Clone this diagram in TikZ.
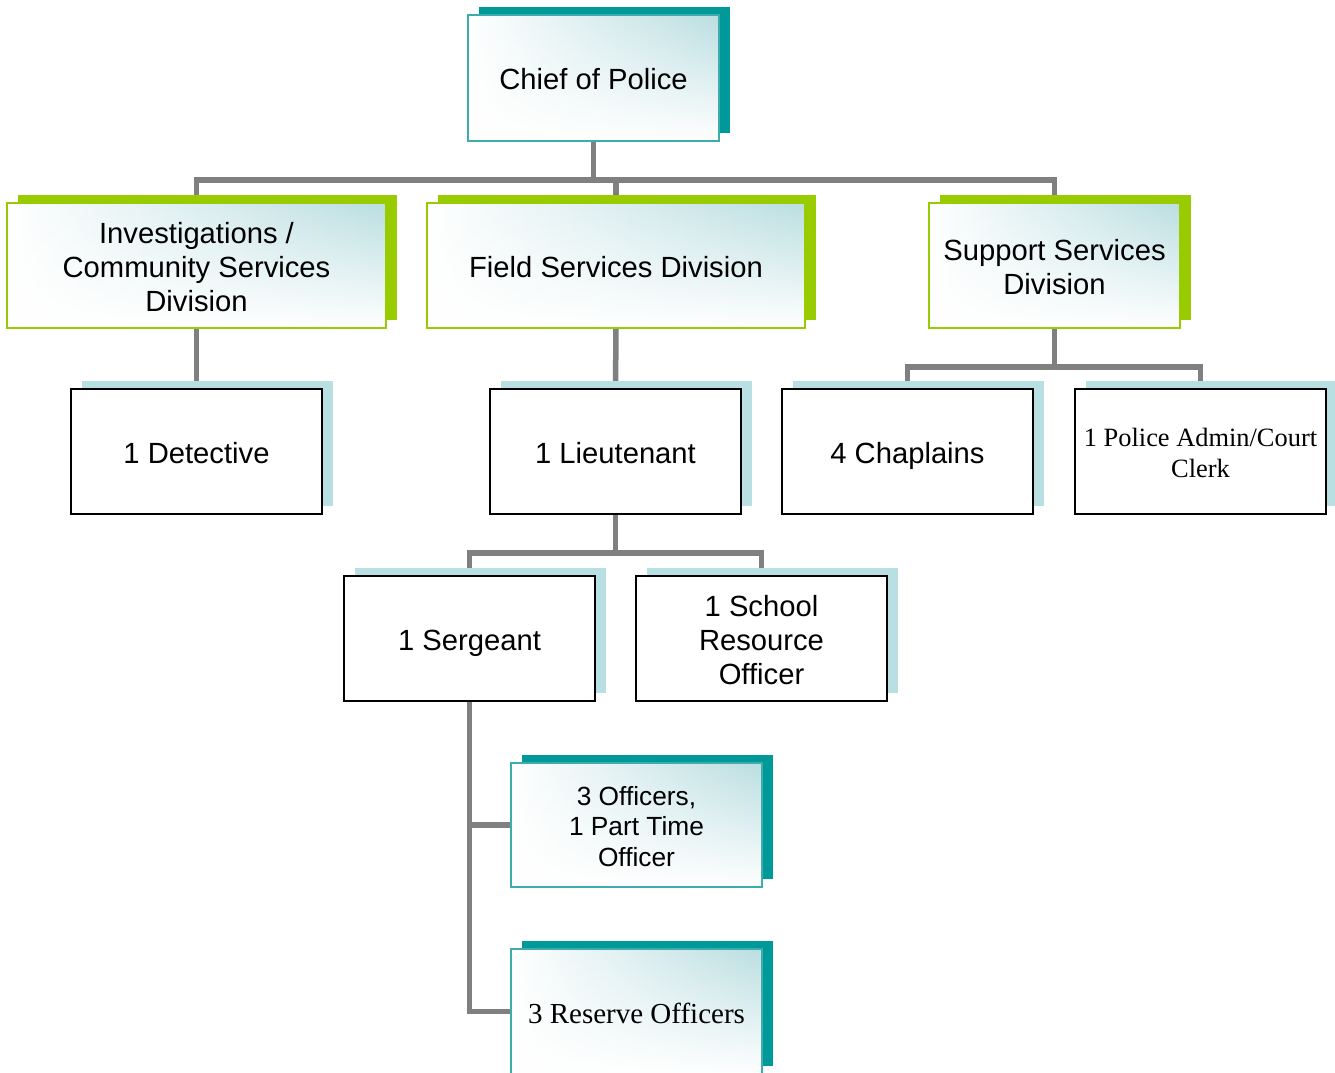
\documentclass[tikz,border=0pt]{standalone}
\usepackage{fontspec}
\setmainfont{Liberation Sans}
\newfontfamily\timesf{Liberation Serif}
\usetikzlibrary{shadows,fadings}
\definecolor{tealc}{RGB}{0,153,153}
\definecolor{greenc}{RGB}{153,204,0}
\definecolor{lbc}{RGB}{184,223,226}
\definecolor{gradc}{RGB}{186,222,225}
\definecolor{tealborder}{RGB}{60,172,172}
\definecolor{linec}{RGB}{128,128,128}
\newcommand\topst{\rule{0pt}{1.03em}}
\newcommand\botst{\rule[-0.21em]{0pt}{0pt}}
\tikzfading[name=upfade, top color=transparent!100, middle color=transparent!80, bottom color=transparent!0]
\pgfdeclarelayer{back}
\pgfsetlayers{back,main}
\tikzset{
  box/.style={minimum width=251pt, minimum height=125pt, inner sep=0pt, outer sep=0pt,
    anchor=north west, align=center, font=\fontsize{29.2}{34}\selectfont},
  shadowof/.style={general shadow={shadow xshift=11pt, shadow yshift=8pt, fill=#1, draw=none}},
  gradfill/.style={preaction={shade, left color=white, right color=gradc},
    preaction={fill=white, path fading=upfade}},
  tealbox/.style={box, shadowof=tealc, gradfill, draw=tealborder, line width=1.6pt},
  greenbox/.style={box, shadowof=greenc, gradfill, draw=greenc, line width=1.8pt},
  whitebox/.style={box, shadowof=lbc, fill=white, draw=black, line width=2pt},
  conn/.style={draw=linec, line width=5.5pt},
}
\begin{document}
\begin{tikzpicture}[x=1pt, y=-1pt]
\useasboundingbox (0,0) rectangle (1335,1072);
\begin{pgfonlayer}{back}
\fill[white] (0,0) rectangle (1335,1072);
\end{pgfonlayer}

\node[tealbox, minimum height=126pt] (chief) at (468,15) {\topst Chief of Police\botst};

\node[greenbox, minimum width=379pt] (inv) at (7,203) {\topst Investigations /\\Community Services\\Division\botst};
\node[greenbox, minimum width=378pt] (field) at (427,203) {\topst Field Services Division\botst};
\node[greenbox] (support) at (929,203) {\topst Support Services\\Division\botst};

\node[whitebox] (det) at (71,389) {\topst 1 Detective\botst};
\node[whitebox] (lieu) at (490,389) {\topst 1 Lieutenant\botst};
\node[whitebox] (chap) at (782,389) {\topst 4 Chaplains\botst};
\node[whitebox, font=\timesf\fontsize{26.4}{31}\selectfont] (clerk) at (1075,389) {\topst 1 Police Admin/Court\\Clerk\botst};

\node[whitebox] (serg) at (344,576) {\topst 1 Sergeant\botst};
\node[whitebox] (sro) at (636,576) {\topst 1 School\\Resource\\Officer\botst};

\node[tealbox, minimum height=124pt, font=\fontsize{26.3}{30.5}\selectfont] (off) at (511,763) {\topst 3 Officers,\\1 Part Time\\Officer\botst};
\node[tealbox, font=\timesf\fontsize{29}{34}\selectfont] (res) at (511,949) {\topst 3 Reserve Officers\botst};

\begin{pgfonlayer}{back}
\draw[conn] (chief.south) -- ++(0,39) -| (inv.north);
\draw[conn] (chief.south) -- ++(0,39) -| (field.north);
\draw[conn] (chief.south) -- ++(0,39) -| (support.north);
\draw[conn] (inv.south) -- (det.north);
\draw[conn] (field.south) -- (lieu.north);
\draw[conn] (support.south) -- ++(0,39) -| (chap.north);
\draw[conn] (support.south) -- ++(0,39) -| (clerk.north);
\draw[conn] (lieu.south) -- ++(0,39) -| (serg.north);
\draw[conn] (lieu.south) -- ++(0,39) -| (sro.north);
\draw[conn] (serg.south) |- (off.west);
\draw[conn] (serg.south) |- (res.west);
\end{pgfonlayer}
\end{tikzpicture}
\end{document}
